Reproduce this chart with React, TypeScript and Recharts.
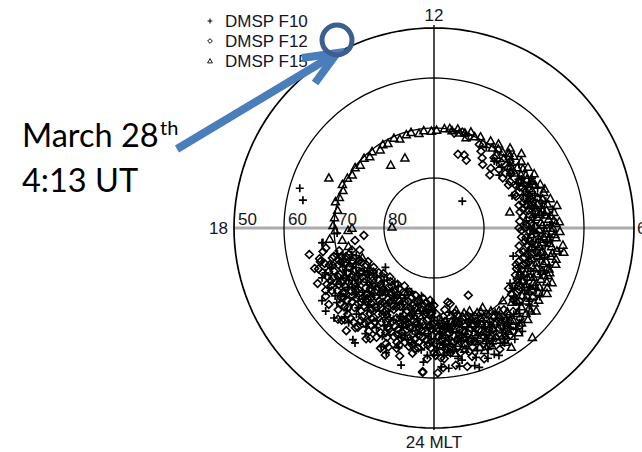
import React from 'react';
import { ScatterChart, Scatter, XAxis, YAxis, ReferenceLine } from 'recharts';

// [MLT (hours), magnetic latitude (deg)]
const f10: number[][] = [
  [16.9, 62.0], [17.2, 63.2], [8.9, 82.2], [18.2, 70.6], [18.5, 67.4], [18.5, 67.6],
  [9.8, 70.8], [9.2, 72.0], [8.6, 73.2], [7.5, 73.1], [4.7, 73.2], [9.1, 71.8], [7.4, 67.8],
  [8.0, 70.5], [7.6, 69.5], [7.2, 68.8], [6.9, 67.0], [6.5, 69.6], [6.3, 71.5], [6.0, 68.0],
  [5.7, 66.8], [5.4, 67.5], [5.1, 70.6], [4.9, 68.0], [4.5, 67.0], [4.2, 70.5], [3.9, 67.5],
  [3.6, 71.2], [3.5, 66.0], [3.3, 69.0], [3.0, 65.8],
  [8.3, 71.5], [7.8, 68.0], [7.0, 70.5], [6.6, 66.0], [6.1, 66.8], [5.6, 69.0], [5.3, 64.5],
  [4.8, 65.8], [4.4, 68.8], [4.0, 65.0], [3.7, 68.0], [3.2, 67.0],
  [7.7, 69.0], [7.1, 67.8], [6.7, 68.2], [6.2, 69.9], [5.8, 68.2], [5.2, 69.2], [4.6, 66.4],
  [4.1, 69.6], [3.4, 65.5], [3.8, 64.8],
  [8.8, 71.8], [8.45, 68.8], [7.95, 69.9], [7.35, 70.9], [6.85, 67.8], [6.45, 68.1],
  [6.0, 70.8], [5.5, 67.2], [5.0, 67.1], [4.45, 69.5], [3.95, 66.4], [3.5, 70.2], [3.15, 68.3],
  [2.8, 64.5], [2.6, 67.0], [2.4, 62.5], [2.3, 65.5], [2.1, 63.0], [1.9, 66.3], [1.7, 62.0],
  [1.6, 69.0], [1.4, 65.8], [1.2, 62.8], [1.0, 65.0], [0.9, 68.5], [0.7, 63.5], [0.5, 67.5],
  [0.4, 61.8], [0.3, 64.5], [0.2, 70.5], [0.1, 66.0], [1.1, 61.3], [0.7, 72.9], [1.2, 60.7],
  [1.8, 61.4], [0.2, 62.2],
  [0.4, 69.8], [0.6, 66.0], [0.8, 63.0], [1.1, 67.2], [1.3, 64.0], [1.5, 67.0], [1.8, 64.0],
  [2.0, 63.4], [2.5, 65.8], [2.7, 62.8],
  [0.2, 68.8], [0.6, 69.3], [1.0, 68.2], [1.4, 70.5], [1.8, 67.8], [2.2, 65.0], [2.6, 64.0],
  [0.3, 66.5], [0.9, 66.8], [1.6, 63.4],
  [0.15, 71.5], [0.5, 65.0], [0.85, 71.5], [1.25, 69.0], [1.7, 65.5], [2.05, 67.5],
  [2.4, 69.2], [2.85, 66.5], [0.7, 61.9], [1.5, 61.8],
  [20.5, 62.7], [21.7, 62.1], [22.6, 63.3], [23.1, 61.8], [23.7, 63.1], [22.7, 76.5],
  [21.6, 76.7], [20.6, 77.5], [19.2, 72.7], [20.2, 63.3], [20.8, 63.1], [21.6, 62.4],
  [19.4, 68.0], [19.8, 72.5], [20.1, 70.0], [20.3, 66.0], [20.7, 69.5], [21.0, 73.5],
  [21.2, 66.8], [21.5, 70.0], [21.8, 64.8], [22.0, 73.8], [22.2, 68.0], [22.6, 71.0],
  [22.9, 65.0], [23.2, 74.5], [23.4, 68.5], [23.8, 64.5], [19.0, 70.0], [19.6, 65.5],
  [19.3, 73.5], [19.7, 70.5], [20.0, 67.5], [20.2, 72.0], [20.5, 65.5], [20.8, 70.8],
  [21.1, 68.0], [21.4, 72.8], [21.7, 66.0], [22.1, 71.0], [22.4, 64.0], [22.8, 69.2],
  [23.1, 67.0], [23.3, 71.5], [23.6, 65.5], [23.9, 72.0],
  [19.1, 71.0], [19.5, 66.5], [19.9, 68.8], [20.3, 69.0], [20.6, 72.8], [20.9, 66.0],
  [21.3, 69.8], [21.6, 73.5], [21.9, 68.2], [22.3, 66.0], [22.6, 72.5], [22.9, 70.5],
  [23.2, 69.0], [23.5, 72.8], [23.8, 68.8], [20.4, 74.0], [21.0, 64.8], [22.0, 67.0],
  [23.0, 67.8], [19.7, 72.0],
  [21.1, 75.5], [21.9, 76.3], [22.5, 74.8], [23.3, 76.2], [20.7, 74.9], [23.9, 75.0],
  [19.4, 72.0], [19.9, 70.0], [20.4, 67.0], [20.9, 73.0], [21.4, 68.8], [21.9, 72.4],
  [22.4, 70.0], [22.9, 67.2], [23.4, 70.4], [23.9, 67.8], [20.1, 73.6], [21.2, 64.5],
  [22.2, 75.0], [23.1, 72.0],
];

const f12: number[][] = [
  [10.8, 74.5], [10.5, 74.2], [10.3, 75.0], [10.6, 70.5], [10.9, 70.0], [11.2, 70.6],
  [10.1, 71.0], [9.9, 72.0], [9.7, 73.0], [9.5, 74.0], [9.3, 71.5], [9.1, 73.5], [8.9, 74.6],
  [8.8, 72.5], [8.6, 71.0], [8.4, 73.0], [8.1, 72.2], [7.8, 71.5], [7.5, 72.5], [7.2, 71.0],
  [7.0, 69.5], [6.7, 70.8], [6.5, 72.0], [6.2, 70.5], [6.0, 71.8], [5.8, 69.6], [5.6, 71.5],
  [5.4, 70.2], [5.2, 72.6], [5.0, 69.8], [4.8, 71.0], [4.6, 70.3], [4.4, 72.0], [4.2, 69.6],
  [4.0, 71.2], [3.8, 70.0], [3.6, 69.0], [3.4, 70.8], [3.2, 68.6],
  [8.5, 72.0], [7.9, 70.8], [7.3, 70.0], [6.8, 71.8], [6.4, 70.2], [5.9, 72.5], [5.5, 70.8],
  [5.0, 71.5], [4.5, 70.8], [4.1, 68.9], [3.7, 69.5], [3.3, 67.5],
  [7.65, 70.6], [7.05, 71.5], [6.6, 69.4], [6.05, 69.8], [5.45, 71.6], [5.1, 68.8],
  [4.7, 69.8], [4.3, 70.6], [3.9, 70.5], [3.5, 69.0], [6.3, 72.8], [4.9, 72.2],
  [8.95, 71.2], [8.75, 69.8], [8.35, 71.2], [8.0, 72.8], [7.7, 71.0], [7.4, 72.4], [7.1, 69.8],
  [6.9, 71.0], [6.7, 72.5], [6.15, 71.5], [5.85, 70.8], [5.6, 72.4], [5.25, 70.0], [4.95, 70.7],
  [4.55, 71.8], [4.25, 71.6], [3.95, 69.4], [3.6, 70.2], [3.3, 69.6],
  [7.0, 72.4], [6.0, 73.0], [5.3, 71.0], [4.1, 70.4],
  [2.9, 67.0], [2.7, 68.5], [2.5, 64.0], [2.4, 67.8], [2.2, 63.5], [2.0, 66.5], [1.9, 62.4],
  [1.8, 69.0], [1.7, 64.2], [1.6, 67.8], [1.4, 62.0], [1.3, 66.0], [1.2, 69.5], [1.1, 63.2],
  [1.0, 67.0], [0.9, 61.5], [0.9, 72.5], [0.8, 64.5], [0.7, 68.0], [0.6, 62.2], [0.5, 70.5],
  [0.4, 66.8], [0.3, 63.8], [0.2, 69.5], [0.1, 61.0], [0.1, 72.8], [0.7, 74.9], [0.8, 74.5],
  [1.8, 74.9], [2.4, 67.4], [0.25, 62.0],
  [0.3, 67.5], [0.5, 64.8], [0.7, 70.0], [1.0, 70.2], [1.2, 65.0], [1.5, 68.2], [1.8, 65.4],
  [2.1, 64.0], [2.3, 66.0], [2.6, 64.8], [2.9, 65.0],
  [0.15, 68.3], [0.35, 65.8], [0.55, 68.7], [0.75, 65.8], [0.95, 69.0], [1.15, 66.5],
  [1.35, 70.0], [1.55, 64.8], [1.75, 68.4], [1.95, 64.8], [2.15, 67.2], [2.35, 63.7],
  [2.55, 66.6], [2.75, 64.0], [0.45, 71.2], [1.05, 64.3], [1.65, 66.0], [2.25, 68.5],
  [0.05, 67.0], [0.2, 64.0], [0.4, 72.2], [0.6, 69.5], [0.8, 67.2], [1.0, 72.0], [1.2, 67.8],
  [1.4, 71.2], [1.6, 69.6], [1.9, 67.0], [2.1, 69.8], [2.4, 65.2], [2.7, 67.0], [0.05, 64.5],
  [0.5, 73.5],
  [0.3, 69.2], [0.6, 65.4], [0.9, 70.6], [1.2, 66.2], [1.5, 69.0], [1.8, 66.6], [2.1, 68.2],
  [0.45, 67.3], [1.05, 68.6], [1.65, 70.6],
  [18.4, 75.9], [18.8, 67.3], [19.1, 66.3],
  [18.6, 74.0], [18.7, 68.0], [18.8, 64.5], [18.9, 70.5], [19.0, 66.3], [19.0, 73.0],
  [19.1, 68.8], [19.2, 71.5], [19.3, 65.5], [19.4, 69.5], [19.5, 72.5], [19.5, 67.2],
  [19.6, 70.0], [19.7, 64.2], [19.7, 74.0], [19.8, 66.8], [19.9, 71.8], [20.0, 68.5],
  [20.0, 65.0], [20.1, 73.2], [20.2, 67.0], [20.3, 70.8], [20.4, 64.0], [20.4, 75.0],
  [20.5, 69.2], [20.5, 72.3], [20.6, 66.0], [20.7, 73.8], [20.8, 68.0], [20.9, 63.5],
  [21.0, 71.0], [21.0, 65.6], [21.1, 74.5], [21.2, 69.0], [21.3, 63.0], [21.3, 72.0],
  [21.4, 67.2], [21.5, 75.2], [21.5, 65.0], [21.6, 70.3], [21.7, 68.0], [21.8, 73.0],
  [21.9, 64.0], [22.0, 71.5], [22.0, 66.5], [22.1, 74.8], [22.2, 69.0],
  [22.3, 72.5], [22.4, 67.8], [22.5, 65.0], [22.5, 70.5], [22.6, 73.6], [22.7, 68.5],
  [22.8, 66.0], [22.9, 71.2], [23.0, 63.5], [23.0, 74.0], [23.1, 69.5], [23.2, 67.0],
  [23.3, 72.5], [23.4, 65.5], [23.4, 70.0], [23.5, 74.3], [23.6, 68.0], [23.7, 71.5],
  [23.8, 66.5], [23.9, 69.8], [23.9, 73.0], [23.7, 61.2], [22.6, 62.8],
  [22.4, 63.7], [23.7, 61.0],
  [19.2, 67.0], [19.4, 71.0], [19.6, 73.5], [19.8, 68.5], [20.0, 71.2], [20.1, 66.0],
  [20.3, 73.9], [20.4, 68.0], [20.6, 70.5], [20.7, 64.8], [20.9, 72.5], [21.0, 67.5],
  [21.2, 71.2], [21.3, 65.2], [21.4, 73.5], [21.6, 66.5], [21.7, 72.0], [21.8, 69.5],
  [21.9, 75.0], [22.0, 64.5], [22.1, 70.2], [22.2, 66.5], [22.3, 73.8], [22.4, 69.5],
  [22.6, 64.5], [22.7, 70.0], [22.8, 72.6], [22.9, 67.5], [23.0, 69.0], [23.1, 73.5],
  [23.2, 65.8], [23.3, 70.8], [23.5, 67.0], [23.6, 72.6], [23.8, 70.2], [23.9, 67.3],
  [24.0, 71.0], [24.0, 65.0],
  [19.05, 69.2], [19.15, 72.2], [19.25, 64.8], [19.35, 70.2], [19.45, 66.0], [19.55, 68.2],
  [19.1, 74.5], [19.3, 67.8], [19.65, 71.2], [19.75, 67.5], [19.85, 65.8], [19.95, 69.6],
  [20.05, 72.8], [20.15, 64.4], [20.25, 68.8], [20.35, 71.6], [20.45, 66.8], [20.55, 74.2],
  [19.9, 74.6], [20.15, 69.8], [20.65, 68.8], [20.75, 71.8], [20.85, 66.6], [20.95, 69.8],
  [21.05, 64.4], [21.15, 72.6], [21.25, 67.9], [21.35, 70.4], [21.45, 64.6], [21.55, 71.8],
  [20.9, 74.8], [21.1, 70.6], [21.65, 67.2], [21.75, 70.9], [21.85, 65.6], [21.95, 72.8],
  [22.05, 68.4], [22.15, 65.3], [22.25, 71.8], [22.35, 67.0], [22.45, 73.0], [22.55, 68.8],
  [21.8, 74.2], [22.65, 66.8], [22.75, 71.5], [22.85, 64.8], [22.95, 73.2],
  [23.05, 66.4], [23.15, 71.0], [23.25, 68.4], [23.35, 64.6], [23.45, 73.5], [23.55, 69.2],
  [22.7, 74.5], [23.0, 70.3], [23.65, 66.4], [23.75, 69.0], [23.85, 72.8], [23.95, 68.5],
  [23.7, 74.0], [23.8, 63.8],
  [20.6, 75.8], [20.8, 76.4], [21.0, 75.9], [21.2, 76.8], [21.4, 76.2], [21.6, 75.6],
  [21.8, 76.6], [22.0, 76.0], [22.2, 77.0], [22.4, 75.7], [22.6, 76.3], [22.8, 75.4],
  [23.0, 76.0], [23.2, 75.3], [23.4, 75.8], [23.6, 75.0], [23.8, 75.5], [24.0, 74.5],
  [20.2, 75.6], [19.8, 75.2],
  [19.15, 70.6], [19.35, 68.4], [19.55, 73.8], [19.75, 69.0], [19.95, 66.4], [20.15, 71.4],
  [20.35, 67.6], [20.55, 70.0], [20.75, 66.2], [20.95, 71.3], [21.15, 65.4], [21.35, 73.9],
  [21.55, 68.6], [21.75, 74.6], [21.95, 69.9], [22.15, 72.4], [22.35, 68.2], [22.55, 74.2],
  [22.75, 67.4], [22.95, 69.8], [23.15, 74.8], [23.35, 67.4], [23.55, 71.2], [23.75, 67.6],
  [23.95, 70.6], [23.5, 65.8], [23.9, 66.0], [22.9, 65.6], [21.0, 63.9],
  [19.25, 69.9], [19.45, 72.4], [19.65, 66.6], [19.85, 70.6], [20.05, 67.8], [20.25, 74.6],
  [20.45, 70.4], [20.65, 67.4], [20.85, 73.2], [21.05, 69.2], [21.25, 74.2], [21.45, 66.4],
  [21.65, 71.4], [21.85, 67.8], [22.05, 73.6], [22.25, 69.6], [22.45, 66.2], [22.65, 71.0],
  [22.85, 68.2], [23.05, 72.4], [23.25, 66.8], [23.45, 69.6], [23.65, 73.0], [23.85, 70.4],
  [20.0, 69.0], [20.5, 67.2], [21.0, 72.2], [21.5, 69.4], [22.0, 70.8], [22.5, 67.6],
  [23.0, 71.6], [23.5, 68.4], [19.5, 70.8], [20.3, 72.6], [21.2, 70.0], [22.2, 74.0],
  [22.8, 69.6], [23.3, 66.2], [21.8, 66.8], [20.8, 69.0],
];

const f15: number[][] = [
  [18.1, 70.2], [17.9, 69.8], [17.6, 70.0], [17.3, 70.4], [17.0, 69.6], [16.8, 70.1],
  [16.5, 70.3], [16.3, 69.7], [16.0, 70.0], [15.8, 70.5], [15.5, 70.1], [15.3, 70.6],
  [15.0, 70.2], [14.8, 70.8], [14.6, 70.3], [14.3, 71.0], [14.1, 70.4], [13.9, 70.7],
  [13.6, 70.3], [13.4, 70.9], [13.1, 70.5], [12.9, 70.3], [12.6, 70.8], [12.4, 70.4],
  [12.1, 70.6], [11.9, 70.4], [11.6, 70.0], [11.3, 70.2], [11.1, 69.6], [10.8, 70.0],
  [10.6, 69.4],
  [13.5, 74.8], [14.3, 74.7], [16.3, 66.7], [17.9, 81.6], [18.0, 73.6], [18.1, 72.8],
  [11.4, 69.8], [11.0, 70.3], [10.7, 70.8], [10.4, 70.0], [10.2, 69.5], [10.0, 70.4],
  [9.8, 69.2], [9.6, 70.2], [9.4, 69.6], [9.5, 68.8],
  [9.2, 69.5], [9.0, 68.8], [9.0, 70.3], [8.8, 68.5], [8.7, 69.8], [8.5, 68.0], [8.4, 69.4],
  [8.3, 70.5], [8.2, 67.6], [8.0, 68.8], [7.9, 67.2], [7.8, 70.0], [7.7, 68.2], [7.5, 67.0],
  [7.4, 69.0], [7.3, 66.5], [7.1, 68.4], [7.0, 67.5], [6.9, 70.2], [6.8, 66.8], [6.8, 74.5],
  [6.6, 68.0], [6.5, 65.8], [6.4, 69.2], [6.3, 67.0], [6.2, 64.9], [6.1, 68.3], [6.0, 66.2],
  [5.9, 64.8], [5.9, 70.0], [5.8, 67.4], [5.7, 65.5], [5.6, 68.8], [5.5, 64.0], [5.5, 66.6],
  [5.4, 69.4], [5.3, 65.0], [5.2, 67.8], [5.1, 66.0], [5.0, 68.5], [4.9, 64.6], [4.8, 67.0],
  [4.7, 65.6], [4.6, 69.0], [4.5, 65.3], [4.4, 67.5], [4.3, 66.3], [4.2, 68.4], [4.0, 63.9],
  [4.0, 66.8], [3.9, 65.5], [3.8, 68.2], [3.7, 64.6], [3.6, 67.0], [3.4, 63.7], [3.3, 65.1],
  [3.2, 66.5], [3.1, 68.5],
  [8.6, 70.3], [8.1, 69.6], [7.6, 68.4], [7.2, 66.9], [6.9, 68.8], [6.4, 66.5], [6.2, 68.6],
  [5.8, 65.8], [5.5, 68.2], [5.2, 65.8], [4.9, 66.6], [4.6, 68.0], [4.3, 65.0], [4.1, 67.3],
  [3.7, 66.0], [3.5, 67.8], [3.3, 64.5],
  [7.85, 69.0], [7.55, 68.0], [7.25, 69.8], [6.95, 66.0], [6.75, 69.2], [6.45, 67.6],
  [6.15, 65.6], [5.95, 69.0], [5.65, 67.0], [5.35, 68.6], [5.05, 64.8], [4.75, 68.3],
  [4.45, 66.0], [4.15, 64.4], [3.85, 66.8], [3.55, 65.0], [3.25, 68.0], [3.95, 69.3],
  [5.75, 70.5], [6.55, 70.8],
  [8.9, 69.2], [8.45, 70.8], [8.25, 68.6], [7.95, 70.3], [7.45, 70.4], [7.15, 70.1],
  [6.85, 69.6], [6.5, 68.6], [6.25, 66.0], [6.0, 67.4], [5.7, 68.0], [5.4, 66.2], [5.15, 68.0],
  [4.85, 69.5], [4.55, 66.8], [4.25, 67.8], [4.05, 65.8], [3.75, 67.2], [3.45, 66.5],
  [3.15, 64.9], [9.3, 70.8], [9.1, 67.9], [8.7, 67.0], [6.7, 65.0], [5.3, 63.6], [4.35, 64.0],
  [3.05, 63.8],
  [7.5, 69.4], [6.6, 67.2], [5.9, 66.4], [5.1, 67.2], [4.6, 65.2], [3.9, 68.4],
  [2.9, 70.0], [2.8, 60.6], [2.6, 63.1], [2.5, 66.0], [2.3, 69.9], [2.2, 61.6], [2.1, 71.4],
  [2.0, 65.0], [1.9, 68.0], [1.8, 71.0], [1.6, 66.5], [1.5, 70.3], [1.4, 64.5], [1.3, 72.0],
  [1.2, 71.3], [1.1, 68.5], [1.0, 73.0], [0.9, 70.5], [0.8, 66.5], [0.7, 72.2], [0.5, 69.0],
  [0.4, 65.5], [0.3, 71.5], [0.2, 67.5],
  [0.6, 67.0], [0.8, 70.8], [1.0, 66.0], [1.3, 68.8], [1.5, 63.5], [1.7, 67.0], [2.0, 69.0],
  [2.2, 66.2], [2.4, 64.5], [2.7, 65.5], [0.3, 68.5], [0.1, 70.0],
  [0.25, 66.3], [0.45, 70.2], [0.65, 64.6], [0.85, 68.0], [1.05, 71.8], [1.25, 66.7],
  [1.45, 69.4], [1.65, 65.2], [1.85, 69.8], [2.05, 66.8], [2.25, 64.2], [2.45, 68.2],
  [2.65, 66.2], [2.85, 64.2],
  [0.1, 65.2], [0.35, 70.8], [0.55, 66.0], [0.75, 69.5], [0.95, 65.0], [1.15, 70.0],
  [1.35, 65.8], [1.55, 72.0], [1.75, 63.8], [1.95, 70.8], [2.15, 63.0], [2.35, 67.0],
  [2.55, 69.0], [2.75, 67.8], [2.95, 66.2],
  [0.4, 67.2], [0.9, 67.4], [1.4, 67.6], [1.9, 65.6], [2.3, 68.8], [0.7, 71.0],
  [18.4, 69.0], [18.5, 71.5], [18.8, 72.5], [19.5, 74.5], [23.8, 73.8], [23.6, 70.5],
  [20.3, 74.6], [21.5, 74.0], [22.5, 76.2], [23.3, 73.2], [23.9, 74.2],
];

const latCircles = [50, 60, 70, 80];
const latTickLabels = ['50', '60', '70', '80'];
const mltLabels = [
  { mlt: 12, text: '12' },
  { mlt: 18, text: '18' },
  { mlt: 24, text: '24 MLT' },
  { mlt: 6, text: '6' },
];
const legendNames = ['DMSP F10', 'DMSP F12', 'DMSP F15'];
const annotationLines = ['March 28', '4:13 UT'];
const annotationSup = 'th';

const toXY = (mlt: number, lat: number) => {
  const r = 90 - lat;
  const a = ((mlt - 12) * Math.PI) / 12;
  return { x: -r * Math.sin(a), y: r * Math.cos(a) };
};

const toData = (arr: number[][]) => arr.map(([m, l]) => ({ ...toXY(m, l), mlt: m, lat: l }));

const f10Data = toData(f10);
const f12Data = toData(f12);
const f15Data = toData(f15);

const circleData = latCircles.map((lat) => {
  const pts: { x: number; y: number }[] = [];
  for (let i = 0; i <= 144; i++) pts.push(toXY((i / 144) * 24, lat));
  return pts;
});

const latLabelData = latCircles.map((lat, i) => ({ ...toXY(18, lat), text: latTickLabels[i] }));
const mltLabelData = mltLabels.map((d) => ({ ...toXY(d.mlt, 50), text: d.text, mlt: d.mlt }));

const FONT = '"Liberation Sans", Arial, sans-serif';

const PlusShape = (p: any) => {
  const { cx, cy } = p;
  if (cx == null || cy == null) return <g />;
  const s = 4;
  return (
    <path
      d={`M${cx - s},${cy}H${cx + s}M${cx},${cy - s}V${cy + s}`}
      stroke="#000"
      strokeWidth={1.7}
      fill="none"
    />
  );
};

const DiamondShape = (p: any) => {
  const { cx, cy } = p;
  if (cx == null || cy == null) return <g />;
  const s = 3.9;
  return (
    <path
      d={`M${cx},${cy - s}L${cx + s},${cy}L${cx},${cy + s}L${cx - s},${cy}Z`}
      stroke="#000"
      strokeWidth={1.6}
      fill="none"
    />
  );
};

const TriangleShape = (p: any) => {
  const { cx, cy } = p;
  if (cx == null || cy == null) return <g />;
  const s = 4;
  return (
    <path
      d={`M${cx},${cy - s}L${cx + s},${cy + s * 0.8}L${cx - s},${cy + s * 0.8}Z`}
      stroke="#000"
      strokeWidth={1.5}
      fill="none"
    />
  );
};

const LatLabel = (p: any) => {
  const { cx, cy, payload } = p;
  if (cx == null) return <g />;
  return (
    <text x={cx + 4} y={cy - 3} fontSize={17} fontFamily={FONT} fill="#141428">
      {payload?.text}
    </text>
  );
};

const MltLabel = (p: any) => {
  const { cx, cy, payload } = p;
  if (cx == null) return <g />;
  const m = payload?.mlt;
  let x = cx;
  let y = cy;
  let anchor: 'start' | 'middle' | 'end' = 'middle';
  if (m === 12) { y = cy - 7; }
  else if (m === 18) { x = cx - 6; y = cy + 6; anchor = 'end'; }
  else if (m === 24) { y = cy + 20; }
  else { x = cx + 3; y = cy + 6; anchor = 'start'; }
  return (
    <text x={x} y={y} textAnchor={anchor} fontSize={17} fontFamily={FONT} fill="#141428">
      {payload?.text}
    </text>
  );
};

const Empty = () => <g />;

const legendShapes = [PlusShape, DiamondShape, TriangleShape];

export default function App() {
  return (
    <div style={{ position: 'absolute', left: 0, top: 0, width: 642, height: 452, background: '#fff' }}>
      <ScatterChart width={642} height={452} margin={{ top: 0, right: 0, bottom: 0, left: 0 }}>
        <XAxis type="number" dataKey="x" domain={[-86.8, 41.6]} allowDataOverflow hide />
        <YAxis type="number" dataKey="y" domain={[-44.8, 45.6]} allowDataOverflow hide />
        <ReferenceLine
          segment={[{ x: -40, y: 0 }, { x: 40.2, y: 0 }]}
          stroke="#ababab"
          strokeWidth={3}
          ifOverflow="visible"
        />
        <ReferenceLine
          segment={[{ x: 0, y: -40.4 }, { x: 0, y: 40.6 }]}
          stroke="#000"
          strokeWidth={1.4}
          ifOverflow="visible"
        />
        {circleData.map((pts, i) => (
          <Scatter
            key={'c' + i}
            data={pts}
            line={{ stroke: '#000', strokeWidth: i === 0 ? 1.7 : 1.3 }}
            lineType="joint"
            shape={Empty}
            isAnimationActive={false}
          />
        ))}
        <Scatter data={f12Data} shape={DiamondShape} isAnimationActive={false} />
        <Scatter data={f15Data} shape={TriangleShape} isAnimationActive={false} />
        <Scatter data={f10Data} shape={PlusShape} isAnimationActive={false} />
        <Scatter data={latLabelData} shape={LatLabel} isAnimationActive={false} />
        <Scatter data={mltLabelData} shape={MltLabel} isAnimationActive={false} />
      </ScatterChart>
      <svg
        width={642}
        height={452}
        style={{ position: 'absolute', left: 0, top: 0, pointerEvents: 'none' }}
      >
        {legendNames.map((name, i) => {
          const Shape = legendShapes[i];
          const cy = 21 + i * 20;
          return (
            <g key={name}>
              <g transform={`translate(${210},${cy}) scale(0.6) translate(${-210},${-cy})`}>
                <Shape cx={210} cy={cy} />
              </g>
              <text x={225} y={cy + 6} fontSize={17} fontFamily={FONT} fill="#141428">
                {name}
              </text>
            </g>
          );
        })}
        <text x={22} y={147} fontSize={32.5} fontFamily="Lato, 'Open Sans', sans-serif" fill="#000">
          {annotationLines[0]}
        </text>
        <text x={160} y={135} fontSize={20} fontFamily="Lato, 'Open Sans', sans-serif" fill="#000">
          {annotationSup}
        </text>
        <text x={22} y={192} fontSize={32.5} fontFamily="Lato, 'Open Sans', sans-serif" fill="#000">
          {annotationLines[1]}
        </text>
        <line x1={177} y1={149} x2={333} y2={55.5} stroke="#4a7ebb" strokeWidth={8} />
        <polyline
          points="302,58 337,53 315,83"
          fill="none"
          stroke="#4a7ebb"
          strokeWidth={8}
          strokeLinejoin="miter"
        />
        <circle cx={337} cy={40} r={15} fill="none" stroke="#3d5f8f" strokeWidth={5} />
      </svg>
    </div>
  );
}
